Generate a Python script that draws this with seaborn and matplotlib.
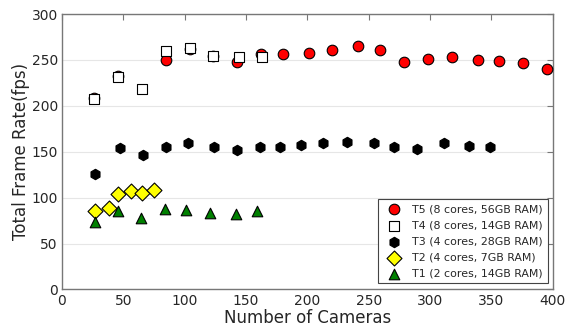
import matplotlib
matplotlib.use('Agg')
import matplotlib.pyplot as plt
import seaborn as sns
import pandas as pd

# T5 (8 cores, 56GB RAM)
t5_cams = [26, 46, 85, 104, 123, 143, 162, 180, 201, 220, 241, 259, 279, 298, 318, 339, 356, 376, 395]
t5_fps  = [209, 233, 250, 262, 254, 248, 256, 257, 258, 261, 265, 261, 248, 251, 253, 250, 249, 247, 240]
# T4 (8 cores, 14GB RAM)
t4_cams = [26, 46, 65, 85, 104, 123, 144, 163]
t4_fps  = [207, 231, 218, 260, 263, 254, 253, 253]
# T3 (4 cores, 28GB RAM)
t3_cams = [27, 47, 66, 85, 103, 124, 143, 161, 178, 195, 213, 232, 254, 271, 289, 311, 332, 349]
t3_fps  = [126, 154, 146, 155, 160, 155, 152, 155, 155, 157, 160, 161, 159, 155, 153, 159, 156, 155]
# T2 (4 cores, 7GB RAM)
t2_cams = [27, 38, 46, 56, 65, 75]
t2_fps  = [85, 89, 104, 107, 105, 108]
# T1 (2 cores, 14GB RAM)
t1_cams = [27, 46, 64, 84, 101, 121, 142, 159]
t1_fps  = [73, 86, 78, 88, 87, 83, 82, 85]

series = [
    ('T5 (8 cores, 56GB RAM)', t5_cams, t5_fps, 'o', 'red', 58),
    ('T4 (8 cores, 14GB RAM)', t4_cams, t4_fps, 's', 'white', 54),
    ('T3 (4 cores, 28GB RAM)', t3_cams, t3_fps, 'h', 'black', 56),
    ('T2 (4 cores, 7GB RAM)', t2_cams, t2_fps, 'D', 'yellow', 58),
    ('T1 (2 cores, 14GB RAM)', t1_cams, t1_fps, '^', 'green', 58),
]

sns.set_style('white')
plt.rcParams['font.family'] = ['DejaVu Sans']

fig = plt.figure(figsize=(5.74, 3.26), dpi=100)
ax = fig.add_axes([0.108, 0.112, 0.855, 0.845])

for label, xs, ys, mk, fc, s in series:
    df = pd.DataFrame({'cams': xs, 'fps': ys})
    sns.scatterplot(data=df, x='cams', y='fps', marker=mk, color=fc,
                    edgecolor='black', linewidth=0.8, s=s, label=label, ax=ax,
                    zorder=3)

ax.set_xlim(0, 400)
ax.set_ylim(0, 300)
ax.set_xticks(range(0, 401, 50))
ax.set_yticks(range(0, 301, 50))
ax.yaxis.grid(True, color='#e6e6e6', linewidth=0.8)
ax.xaxis.grid(False)
ax.tick_params(direction='in', top=True, right=True, length=4,
               color='#777777', labelsize=10, pad=3)
for sp in ax.spines.values():
    sp.set_color('#777777')
    sp.set_linewidth(1.0)

ax.set_xlabel('Number of Cameras', fontsize=12, labelpad=1)
ax.set_ylabel('Total Frame Rate(fps)', fontsize=12, labelpad=1)

leg = ax.legend(loc='lower right', fontsize=7.9, scatterpoints=1,
                fancybox=False, framealpha=1, borderpad=0.45,
                labelspacing=0.55, handletextpad=0.7, borderaxespad=0,
                bbox_to_anchor=(0.990, 0.022))
leg.get_frame().set_edgecolor('#444444')
leg.get_frame().set_linewidth(0.8)

fig.savefig('out.png', dpi=100)
